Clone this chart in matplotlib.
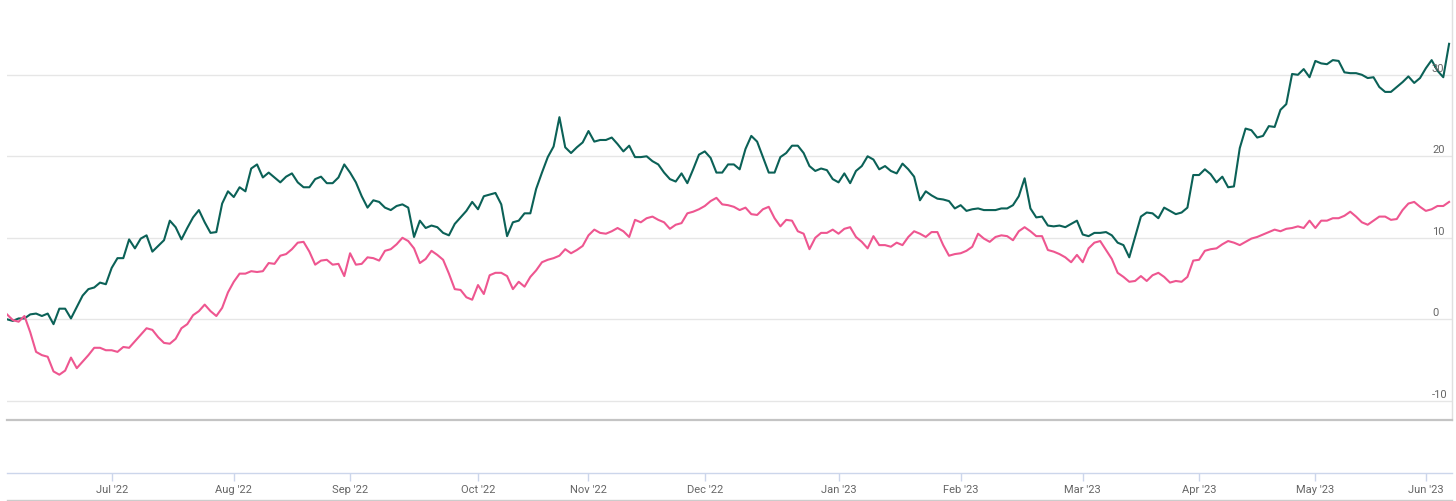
import matplotlib
matplotlib.use("Agg")
import matplotlib.pyplot as plt
import matplotlib.transforms as mtransforms

plt.rcParams['font.family'] = ['Roboto', 'DejaVu Sans']

# cumulative return (%), one value per trading day
green = [
    0.0, -0.2, 0.1, 0.1, 0.6, 0.7, 0.4, 0.7, -0.6, 1.3,
    1.3, 0.1, 1.5, 2.9, 3.7, 3.9, 4.5, 4.3, 6.3, 7.5,
    7.5, 9.8, 8.7, 9.9, 10.3, 8.3, 9.0, 9.7, 12.1, 11.3,
    9.8, 11.2, 12.5, 13.4, 11.9, 10.6, 10.7, 14.2, 15.7, 15.0,
    16.2, 15.7, 18.5, 19.0, 17.4, 18.0, 17.4, 16.8, 17.5, 17.9,
    16.8, 16.2, 16.2, 17.2, 17.5, 16.7, 16.7, 17.4, 19.0, 18.0,
    16.8, 15.1, 13.7, 14.6, 14.4, 13.7, 13.4, 13.9, 14.1, 13.7,
    10.1, 12.1, 11.2, 11.5, 11.3, 10.6, 10.3, 11.7, 12.5, 13.3,
    14.4, 13.5, 15.1, 15.3, 15.5, 14.1, 10.2, 11.9, 12.1, 13.0,
    13.0, 16.0, 18.0, 19.9, 21.2, 24.8, 21.1, 20.4, 21.1, 21.7,
    23.1, 21.8, 22.0, 22.0, 22.3, 21.5, 20.6, 21.3, 19.9, 19.9,
    20.0, 19.4, 19.0, 18.0, 17.2, 16.9, 17.9, 16.7, 18.4, 20.2,
    20.6, 19.8, 18.0, 18.0, 19.0, 19.0, 18.4, 20.9, 22.5, 21.8,
    19.9, 18.0, 18.0, 19.9, 20.4, 21.3, 21.3, 20.4, 18.8, 18.2,
    18.5, 18.3, 17.2, 16.8, 17.9, 16.7, 18.2, 18.8, 20.0, 19.6,
    18.4, 18.8, 18.2, 17.9, 19.1, 18.4, 17.5, 14.6, 15.7, 15.2,
    14.8, 14.7, 14.5, 13.6, 14.0, 13.3, 13.5, 13.6, 13.4, 13.4,
    13.4, 13.6, 13.6, 14.0, 15.1, 17.3, 13.6, 12.5, 12.6, 11.5,
    11.4, 11.5, 11.3, 11.7, 12.1, 10.4, 10.2, 10.6, 10.6, 10.7,
    10.3, 9.4, 9.1, 7.6, 10.1, 12.6, 13.1, 13.0, 12.4, 13.7,
    13.3, 12.9, 13.1, 13.7, 17.7, 17.7, 18.4, 17.8, 16.8, 17.5,
    16.2, 16.3, 21.0, 23.4, 23.2, 22.3, 22.5, 23.7, 23.6, 25.7,
    26.4, 30.1, 30.0, 30.7, 29.7, 31.7, 31.4, 31.3, 31.8, 31.7,
    30.3, 30.2, 30.2, 30.0, 29.6, 29.7, 28.5, 27.9, 27.9, 28.5,
    29.1, 29.8, 29.0, 29.6, 30.8, 31.8, 30.5, 29.7, 33.8,
]

pink = [
    0.6, -0.1, -0.3, 0.4, -1.6, -4.0, -4.4, -4.6, -6.4, -6.8,
    -6.3, -4.7, -6.0, -5.2, -4.4, -3.5, -3.5, -3.8, -3.8, -4.0,
    -3.4, -3.5, -2.7, -1.9, -1.1, -1.3, -2.2, -2.9, -3.0, -2.4,
    -1.1, -0.6, 0.5, 1.0, 1.8, 1.0, 0.4, 1.4, 3.3, 4.6,
    5.6, 5.6, 5.9, 5.8, 5.9, 6.9, 6.8, 7.8, 8.0, 8.6,
    9.4, 9.5, 8.3, 6.7, 7.2, 7.3, 6.7, 6.8, 5.3, 8.1,
    6.7, 6.8, 7.6, 7.5, 7.2, 8.4, 8.6, 9.2, 10.0, 9.6,
    8.7, 6.9, 7.4, 8.4, 7.9, 7.3, 5.6, 3.7, 3.6, 2.7,
    2.4, 4.2, 3.1, 5.4, 5.7, 5.7, 5.3, 3.7, 4.6, 4.0,
    5.2, 6.0, 7.0, 7.3, 7.5, 7.8, 8.6, 8.1, 8.5, 9.0,
    10.3, 11.0, 10.6, 10.5, 10.8, 11.2, 10.8, 10.1, 12.2, 11.9,
    12.4, 12.6, 12.2, 11.9, 11.1, 11.6, 11.8, 13.0, 13.2, 13.5,
    13.9, 14.5, 14.9, 14.1, 14.0, 13.8, 13.4, 13.7, 12.9, 12.8,
    13.5, 13.8, 12.4, 11.4, 12.2, 12.1, 10.8, 10.5, 8.6, 10.0,
    10.6, 10.6, 11.0, 10.5, 11.1, 11.3, 10.1, 9.5, 8.7, 10.2,
    9.1, 9.1, 8.9, 9.4, 9.1, 10.1, 10.8, 10.5, 10.1, 10.7,
    10.7, 9.1, 7.8, 8.0, 8.1, 8.4, 8.9, 10.5, 9.9, 9.5,
    10.1, 10.3, 10.2, 9.7, 10.8, 11.3, 10.8, 10.2, 10.2, 8.5,
    8.3, 8.0, 7.6, 7.0, 7.9, 7.0, 8.7, 9.4, 9.6, 8.5,
    7.4, 5.7, 5.2, 4.6, 4.7, 5.3, 4.7, 5.4, 5.7, 5.2,
    4.5, 4.7, 4.6, 5.2, 7.2, 7.3, 8.4, 8.6, 8.7, 9.2,
    9.6, 9.4, 9.1, 9.5, 9.9, 10.1, 10.4, 10.7, 11.0, 10.8,
    11.1, 11.2, 11.4, 11.2, 12.1, 11.2, 12.1, 12.1, 12.4, 12.4,
    12.7, 13.2, 12.6, 11.9, 11.6, 12.1, 12.6, 12.6, 12.2, 12.3,
    13.4, 14.2, 14.4, 13.8, 13.3, 13.5, 13.9, 13.9, 14.4,
]

# first trading day of each month (index into the series)
month_idx = [18, 39, 59, 81, 100, 120, 143, 164, 185, 205, 225, 244]
month_labels = ["Jul '22", "Aug '22", "Sep '22", "Oct '22", "Nov '22", "Dec '22",
                "Jan '23", "Feb '23", "Mar '23", "Apr '23", "May '23", "Jun '23"]
y_ticks = [-10, 0, 10, 20, 30]

W, H = 1456, 502
fig = plt.figure(figsize=(W / 100, H / 100), dpi=100)
left, right = 7, 1452
x = list(range(len(green)))
xmax = len(green) - 1 + 0.5

# main price pane
ax = fig.add_axes([left / W, (H - 421) / H, (right - left) / W, 421 / H])
ax.plot(x, green, color='#0b6157', lw=1.5, solid_joinstyle='round')
ax.plot(x, pink, color='#ee5690', lw=1.5, solid_joinstyle='round')
ax.set_xlim(0, xmax)
ax.set_ylim(-12.36, 39.3)
ax.set_yticks(y_ticks)
ax.set_xticks([])
ax.grid(axis='y', color='#e6e6e6', lw=1)
ax.set_axisbelow(True)
ax.tick_params(axis='y', length=0, labelleft=False)
for s in ['top', 'left']:
    ax.spines[s].set_visible(False)
ax.spines['bottom'].set_color('#c4c4c4')
ax.spines['bottom'].set_linewidth(1.6)
ax.spines['right'].set_color('#e0e0e0')
ax.spines['right'].set_linewidth(1)

trans = mtransforms.blended_transform_factory(ax.transAxes, ax.transData)
for v in y_ticks:
    ax.annotate(str(v), xy=((1432 - left) / (right - left), v), xycoords=trans,
                xytext=(0, 1.5), textcoords='offset points',
                ha='left', va='bottom', fontsize=8, color='#666666')

# date axis
ax2 = fig.add_axes([left / W, (H - 474) / H, (right - left) / W, 20 / H])
ax2.set_xlim(0, xmax)
ax2.set_ylim(0, 1)
ax2.patch.set_alpha(0)
for s in ['top', 'left', 'right']:
    ax2.spines[s].set_visible(False)
ax2.spines['bottom'].set_color('#ccd6eb')
ax2.spines['bottom'].set_linewidth(1)
ax2.set_yticks([])
ax2.set_xticks(month_idx)
ax2.set_xticklabels(month_labels, fontsize=8, color='#666666')
ax2.tick_params(axis='x', length=6, width=1, color='#ccd6eb', pad=2)

# navigator border at the very bottom
fig.add_artist(plt.Line2D([left / W, right / W], [(H - 500.5) / H] * 2,
                          color='#cccccc', lw=1))

fig.savefig('out.png', dpi=100)
